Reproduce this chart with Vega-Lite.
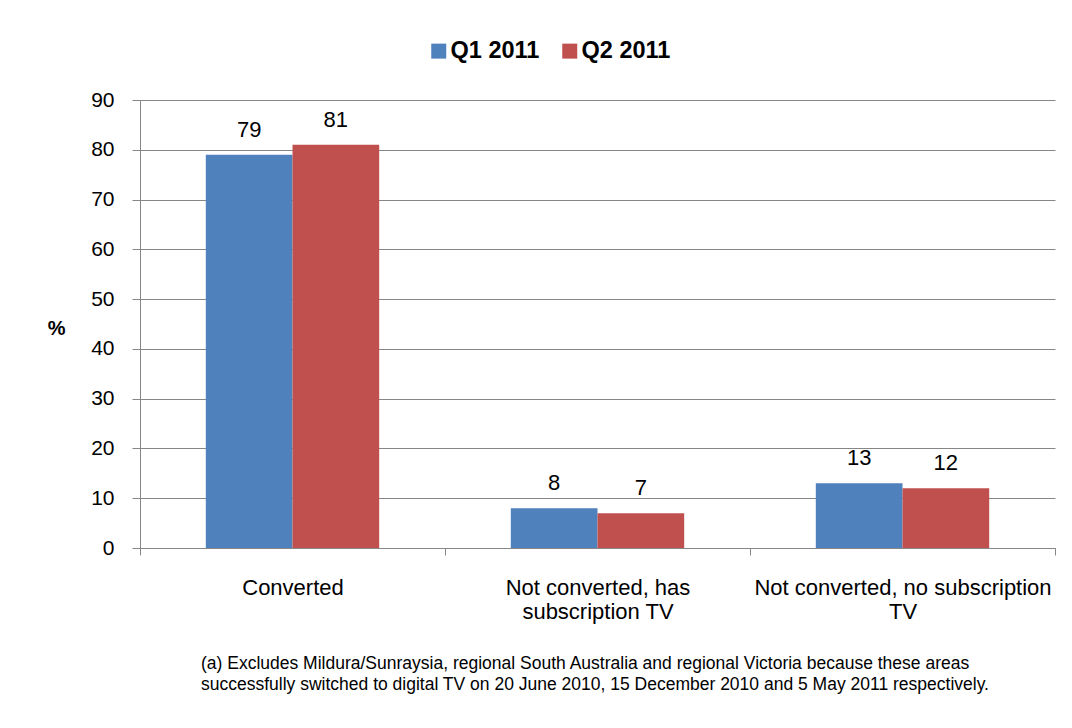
{
  "$schema": "https://vega.github.io/schema/vega-lite/v6.json",
  "width": 915,
  "height": 448,
  "autosize": {"type": "none"},
  "padding": {"left": 140, "top": 100, "right": 17, "bottom": 180},
  "background": "white",
  "config": {
    "view": {"stroke": null},
    "font": "Liberation Sans",
    "axis": {
      "domainColor": "#868686",
      "tickColor": "#868686",
      "gridColor": "#868686",
      "labelColor": "black",
      "titleColor": "black"
    }
  },
  "title": {
    "text": [
      "(a) Excludes Mildura/Sunraysia, regional South Australia and regional Victoria because these areas",
      "successfully switched to digital TV on 20 June 2010, 15 December 2010 and 5 May 2011 respectively."
    ],
    "orient": "bottom",
    "anchor": "start",
    "frame": "group",
    "dx": 61,
    "offset": 33,
    "fontSize": 17.5,
    "fontWeight": "normal",
    "color": "black",
    "lineHeight": 21
  },
  "data": {
    "values": [
      {"category": "Converted", "series": "Q1 2011", "value": 79},
      {"category": "Converted", "series": "Q2 2011", "value": 81},
      {"category": "Not converted, has subscription TV", "series": "Q1 2011", "value": 8},
      {"category": "Not converted, has subscription TV", "series": "Q2 2011", "value": 7},
      {"category": "Not converted, no subscription TV", "series": "Q1 2011", "value": 13},
      {"category": "Not converted, no subscription TV", "series": "Q2 2011", "value": 12}
    ]
  },
  "encoding": {
    "x": {
      "field": "category",
      "type": "nominal",
      "sort": null,
      "scale": {"paddingInner": 0, "paddingOuter": 0},
      "axis": {
        "title": null,
        "labelAngle": 0,
        "labelFontSize": 22,
        "labelPadding": 22,
        "labelLimit": 0,
        "labelLineHeight": 24,
        "tickBand": "extent",
        "tickSize": 7,
        "grid": false,
        "labelExpr": "datum.label == 'Not converted, has subscription TV' ? ['Not converted, has', 'subscription TV'] : datum.label == 'Not converted, no subscription TV' ? ['Not converted, no subscription', 'TV'] : datum.label"
      }
    },
    "xOffset": {
      "field": "series",
      "type": "nominal",
      "scale": {"paddingInner": 0, "paddingOuter": 0.759}
    },
    "y": {
      "field": "value",
      "type": "quantitative",
      "scale": {"domain": [0, 90]},
      "axis": {
        "values": [0, 10, 20, 30, 40, 50, 60, 70, 80, 90],
        "grid": true,
        "tickSize": 8,
        "labelFontSize": 21,
        "labelPadding": 18,
        "title": "%",
        "titleAngle": 0,
        "titleFontSize": 20,
        "titleFontWeight": "bold",
        "titleAlign": "right",
        "titleBaseline": "middle",
        "titleX": -75,
        "titleY": 228
      }
    }
  },
  "layer": [
    {
      "mark": {"type": "bar"},
      "encoding": {
        "color": {
          "field": "series",
          "type": "nominal",
          "scale": {"domain": ["Q1 2011", "Q2 2011"], "range": ["#4F81BD", "#C0504D"]},
          "legend": {
            "orient": "none",
            "legendX": 287,
            "legendY": -61,
            "direction": "horizontal",
            "title": null,
            "symbolType": "square",
            "symbolSize": 225,
            "symbolStrokeWidth": 0,
            "labelFontSize": 23.5,
            "labelFontWeight": "bold",
            "labelColor": "black",
            "labelOffset": 0,
            "columnPadding": 18,
            "padding": 0
          }
        }
      }
    },
    {
      "mark": {"type": "text", "dy": -18, "baseline": "alphabetic", "fontSize": 22, "color": "black"},
      "encoding": {
        "text": {"field": "value", "type": "quantitative"}
      }
    }
  ]
}
